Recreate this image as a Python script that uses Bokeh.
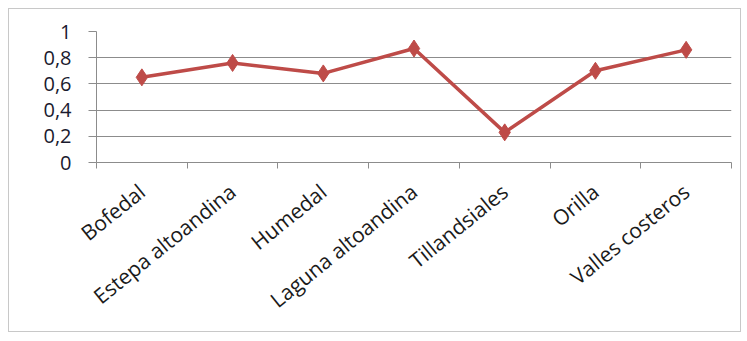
from bokeh.plotting import figure
from bokeh.models import FixedTicker, Range1d
from bokeh.embed import file_html
from bokeh.resources import INLINE

categories = ["Bofedal", "Estepa altoandina", "Humedal", "Laguna altoandina",
              "Tillandsiales", "Orilla", "Valles costeros"]
values = [0.65, 0.76, 0.68, 0.87, 0.23, 0.70, 0.86]
y_ticks = [0, 0.2, 0.4, 0.6, 0.8, 1]
y_tick_labels = ["0", "0,2", "0,4", "0,6", "0,8", "1"]

n = len(categories)
xs = [i + 0.5 for i in range(n)]

p = figure(frame_width=635, frame_height=131,
           min_border_left=87, min_border_top=22, min_border_right=9, min_border_bottom=169,
           x_range=Range1d(0, n), y_range=Range1d(0, 1),
           output_backend="svg", toolbar_location=None,
           background_fill_color="white", border_fill_color="white")
p.styles = {"border": "1px solid #c8c8c8", "margin-left": "8px", "margin-top": "8px"}
p.outline_line_color = None

p.line(xs, values, line_color="#BE4B48", line_width=3.5)
p.scatter(xs, values, marker="diamond", size=17, fill_color="#BE4B48", line_color="#BE4B48")

# grids
p.xgrid.visible = False
p.ygrid.ticker = FixedTicker(ticks=y_ticks)
p.ygrid.grid_line_color = "#8c8c8c"
p.ygrid.grid_line_width = 1

# y axis
p.yaxis.ticker = FixedTicker(ticks=y_ticks)
p.yaxis.major_label_overrides = dict(zip(y_ticks, y_tick_labels))
p.yaxis.axis_line_color = "#8c8c8c"
p.yaxis.major_tick_line_color = "#8c8c8c"
p.yaxis.major_tick_out = 8
p.yaxis.major_tick_in = 0
p.yaxis.minor_tick_line_color = None
p.yaxis.major_label_text_font = "Open Sans"
p.yaxis.major_label_text_font_size = "20px"
p.yaxis.major_label_text_color = "#1a1a2e"
p.yaxis.major_label_standoff = 17

# x axis
p.xaxis.ticker = FixedTicker(ticks=xs, minor_ticks=list(range(n + 1)))
p.xaxis.major_label_overrides = dict(zip(xs, categories))
p.xaxis.axis_line_color = "#8c8c8c"
p.xaxis.major_tick_line_color = None
p.xaxis.minor_tick_line_color = "#8c8c8c"
p.xaxis.minor_tick_out = 6
p.xaxis.minor_tick_in = 0
p.xaxis.major_label_orientation = 0.68
p.xaxis.major_label_text_font = "Open Sans"
p.xaxis.major_label_text_font_size = "21px"
p.xaxis.major_label_text_color = "#1a1a1a"
p.xaxis.major_label_standoff = 20

open("out.html", "w").write(file_html(p, INLINE))
